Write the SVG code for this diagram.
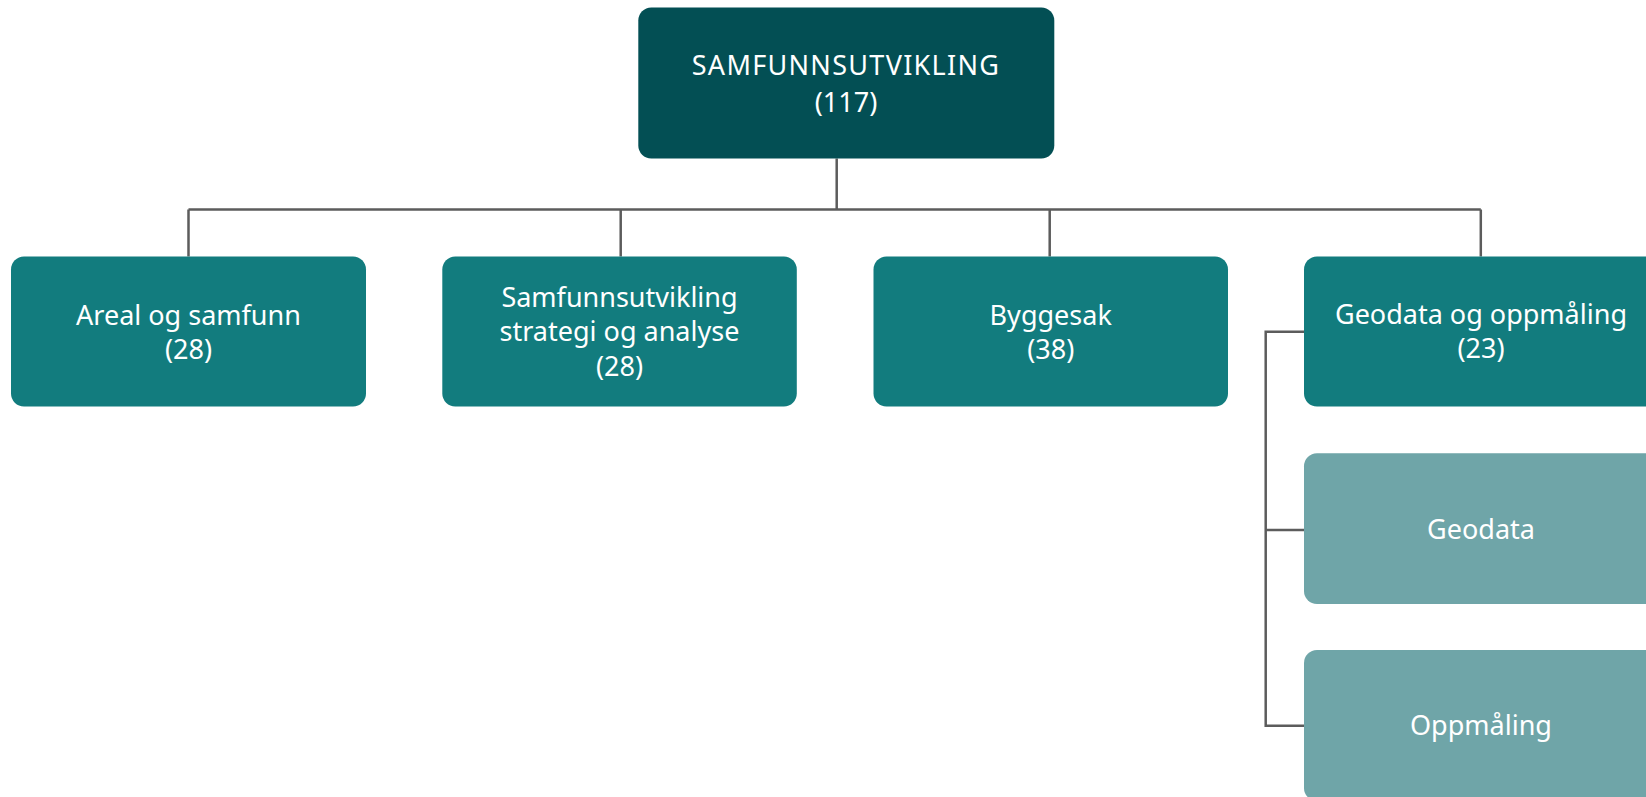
<svg xmlns="http://www.w3.org/2000/svg" width="1646" height="797" viewBox="0 0 1646 797">
<style>
.l1{fill:#034f54}
.l2{fill:#127c7e}
.l3{fill:#6fa5a8}
text{font-family:"Noto Sans","Open Sans",sans-serif;fill:#ffffff;font-size:27px;text-anchor:middle}
.top{letter-spacing:1.3px}
.conn{fill:none;stroke:#5c5c5c;stroke-width:2.5}
</style>
<rect width="1646" height="797" fill="#ffffff"/>
<g id="connectors">
<path class="conn" d="M836.7 158.5V209.5M188.5 209.5H1480.8M188.5 209.5V256.5M620.7 209.5V256.5M1049.7 209.5V256.5M1480.8 209.5V256.5"/>
<path class="conn" d="M1304 331.7H1265.7V725.7H1304M1265.7 530H1304"/>
</g>
<g id="node-top">
<rect class="l1" x="638.3" y="7.5" width="416" height="151" rx="13"/>
<text class="top" x="846" y="75">SAMFUNNSUTVIKLING</text>
<text x="846" y="112">(117)</text>
</g>
<g id="node-areal">
<rect class="l2" x="11" y="256.5" width="355" height="150" rx="13"/>
<text x="188.5" y="325">Areal og samfunn</text>
<text x="188.5" y="359">(28)</text>
</g>
<g id="node-strategi">
<rect class="l2" x="442.3" y="256.5" width="354.5" height="150" rx="13"/>
<text x="619.5" y="306.5">Samfunnsutvikling</text>
<text x="619.5" y="340.5">strategi og analyse</text>
<text x="619.5" y="376">(28)</text>
</g>
<g id="node-byggesak">
<rect class="l2" x="873.5" y="256.5" width="354.5" height="150" rx="13"/>
<text x="1050.7" y="325">Byggesak</text>
<text x="1050.7" y="359">(38)</text>
</g>
<g id="node-geodata-oppmaling">
<rect class="l2" x="1304" y="256.5" width="355" height="150" rx="13"/>
<text x="1481" y="323.5">Geodata og oppmåling</text>
<text x="1481" y="358">(23)</text>
</g>
<g id="node-geodata">
<rect class="l3" x="1304" y="453.3" width="355" height="150.7" rx="13"/>
<text x="1481" y="538.5">Geodata</text>
</g>
<g id="node-oppmaling">
<rect class="l3" x="1304" y="650" width="355" height="151" rx="13"/>
<text x="1481" y="735">Oppmåling</text>
</g>
</svg>
